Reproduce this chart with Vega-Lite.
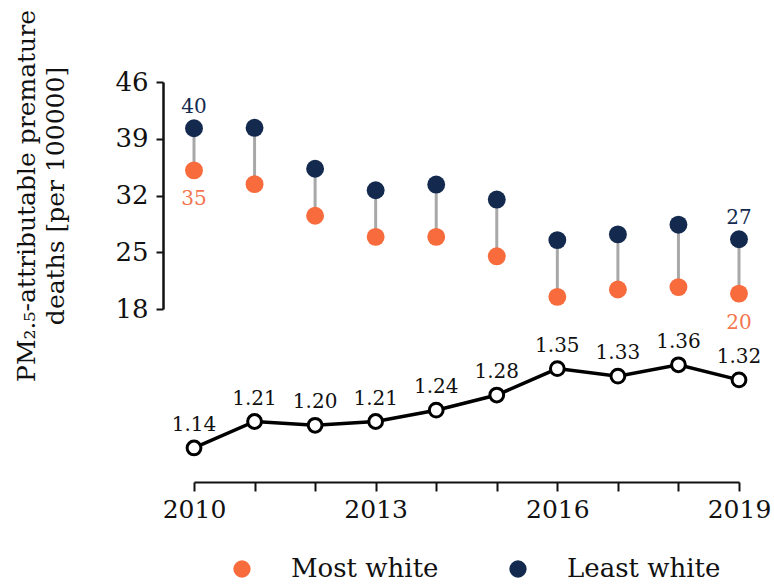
{
  "$schema": "https://vega.github.io/schema/vega-lite/v6.json",
  "padding": {"left": 14, "top": 9, "right": 10, "bottom": 5},
  "background": "white",
  "bounds": "flush",
  "spacing": 18,
  "config": {
    "view": {"stroke": null},
    "font": "DejaVu Serif",
    "axis": {"labelFont": "DejaVu Serif", "titleFont": "DejaVu Serif", "labelColor": "#111", "titleColor": "#111", "domainColor": "#111", "tickColor": "#111", "grid": false},
    "legend": {"labelFont": "DejaVu Serif"}
  },
  "datasets": {
    "wide": [
      {"year": 2010, "Most white": 35.1, "Least white": 40.3, "ratio": 1.14},
      {"year": 2011, "Most white": 33.4, "Least white": 40.35, "ratio": 1.21},
      {"year": 2012, "Most white": 29.5, "Least white": 35.3, "ratio": 1.20},
      {"year": 2013, "Most white": 26.9, "Least white": 32.65, "ratio": 1.21},
      {"year": 2014, "Most white": 26.9, "Least white": 33.35, "ratio": 1.24},
      {"year": 2015, "Most white": 24.5, "Least white": 31.5, "ratio": 1.28},
      {"year": 2016, "Most white": 19.5, "Least white": 26.5, "ratio": 1.35},
      {"year": 2017, "Most white": 20.4, "Least white": 27.2, "ratio": 1.33},
      {"year": 2018, "Most white": 20.7, "Least white": 28.4, "ratio": 1.36},
      {"year": 2019, "Most white": 19.9, "Least white": 26.6, "ratio": 1.32}
    ]
  },
  "vconcat": [
    {
      "width": 545,
      "height": 227,
      "data": {"name": "wide"},
      "encoding": {
        "x": {"field": "year", "type": "quantitative", "scale": {"domain": [2010, 2019]}, "axis": null}
      },
      "layer": [
        {
          "mark": {"type": "rule", "color": "#a8a8a8", "strokeWidth": 3},
          "encoding": {
            "y": {"field": "Least white", "type": "quantitative", "scale": {"domain": [18, 46], "nice": false, "zero": false},
              "axis": {"values": [18, 25, 32, 39, 46], "offset": 31, "domain": true, "domainColor": "#111111", "tickSize": 7, "tickWidth": 2, "domainWidth": 2.5, "labelFontSize": 26, "labelPadding": 8,
                "title": ["PM₂.₅-attributable premature", "deaths [per 100000]"], "titleFontSize": 25, "titleFontWeight": "normal", "titleLineHeight": 29, "titlePadding": 46}},
            "y2": {"field": "Most white"}
          }
        },
        {
          "transform": [{"fold": ["Most white", "Least white"], "as": ["group", "value"]}],
          "mark": {"type": "point", "filled": true, "opacity": 1, "size": 320, "shape": "circle"},
          "encoding": {
            "y": {"field": "value", "type": "quantitative"},
            "color": {"field": "group", "type": "nominal",
              "scale": {"domain": ["Most white", "Least white"], "range": ["#f76b3c", "#132a4e"]},
              "legend": {"title": null, "orient": "none", "legendX": 35, "legendY": 474, "direction": "horizontal", "labelFontSize": 26, "symbolSize": 300, "symbolType": "circle", "labelOffset": 36, "columnPadding": 66, "symbolStrokeWidth": 0, "labelColor": "#111"}}
          }
        },
        {
          "transform": [{"filter": "datum.year == 2010 || datum.year == 2019"}],
          "mark": {"type": "text", "baseline": "alphabetic", "dy": -15, "fontSize": 20, "color": "#132a4e"},
          "encoding": {
            "y": {"field": "Least white", "type": "quantitative"},
            "text": {"field": "Least white", "type": "quantitative", "format": ".0f"}
          }
        },
        {
          "transform": [{"filter": "datum.year == 2010 || datum.year == 2019"}],
          "mark": {"type": "text", "baseline": "alphabetic", "dy": 35, "fontSize": 20, "color": "#f47650"},
          "encoding": {
            "y": {"field": "Most white", "type": "quantitative"},
            "text": {"field": "Most white", "type": "quantitative", "format": ".0f"}
          }
        }
      ]
    },
    {
      "width": 545,
      "height": 155,
      "data": {"name": "wide"},
      "encoding": {
        "x": {"field": "year", "type": "quantitative", "scale": {"domain": [2010, 2019]},
          "axis": {"title": null, "values": [2010, 2011, 2012, 2013, 2014, 2015, 2016, 2017, 2018, 2019], "format": "d",
            "labelExpr": "(datum.value - 2010) % 3 === 0 ? datum.label : ''", "tickSize": 9, "tickWidth": 2, "domainWidth": 2, "labelFontSize": 25, "labelPadding": 6, "labelFlush": false, "labelOverlap": false}},
        "y": {"field": "ratio", "type": "quantitative", "scale": {"domain": [1.05, 1.46], "nice": false, "zero": false}, "axis": null}
      },
      "layer": [
        {"mark": {"type": "line", "color": "#000", "strokeWidth": 3.5}},
        {"mark": {"type": "point", "shape": "circle", "filled": false, "fill": "white", "fillOpacity": 1, "stroke": "#000", "strokeWidth": 3, "size": 190, "opacity": 1}},
        {
          "mark": {"type": "text", "baseline": "alphabetic", "dy": -17, "fontSize": 20, "color": "#111"},
          "encoding": {"text": {"field": "ratio", "type": "quantitative", "format": ".2f"}}
        }
      ]
    }
  ]
}
